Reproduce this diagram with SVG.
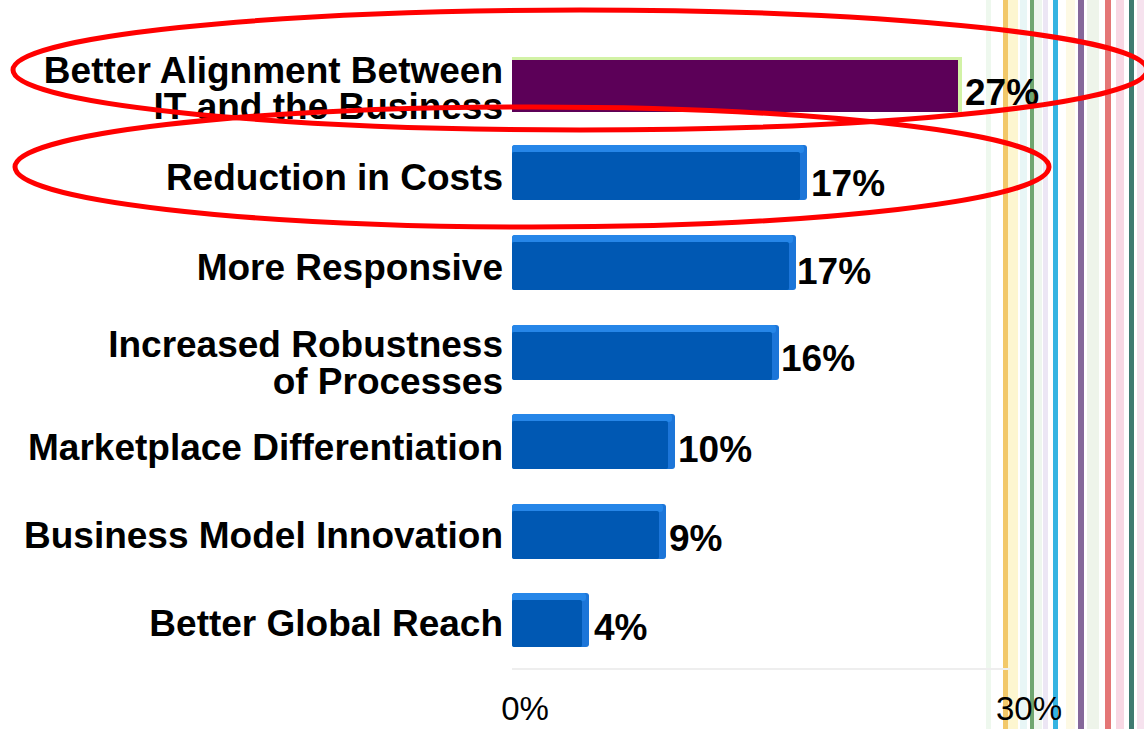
<svg xmlns="http://www.w3.org/2000/svg" width="1144" height="729" viewBox="0 0 1144 729">
<defs>
<style>
.lbl{font-family:"Liberation Sans",Arial,sans-serif;font-weight:bold;font-size:37px;fill:#000;text-anchor:end}
.val{font-family:"Liberation Sans",Arial,sans-serif;font-weight:bold;font-size:37px;fill:#000}
.ax{font-family:"Liberation Sans",Arial,sans-serif;font-size:33px;fill:#000;text-anchor:middle}
.bar{fill:#0059b3}
.top{fill:#2586e8}
.side{fill:#1a74d8}
.ring{fill:none;stroke:#ff0000;stroke-width:5}
</style>
<filter id="soft" x="-5%" y="-20%" width="110%" height="140%"><feGaussianBlur stdDeviation="0.7"/></filter>
</defs>
<rect width="1144" height="729" fill="#ffffff"/>
<g id="stripes">
<rect x="986" y="0" width="5" height="729" fill="#eef8ee"/>
<rect x="1003" y="0" width="5" height="729" fill="#f2c869"/>
<rect x="1008" y="0" width="10" height="729" fill="#fdf6d0"/>
<rect x="1020" y="0" width="7" height="729" fill="#e8f6f6"/>
<rect x="1030" y="0" width="4" height="729" fill="#6fa66f"/>
<rect x="1034" y="0" width="8" height="729" fill="#eef6ee"/>
<rect x="1043" y="0" width="5" height="729" fill="#ece6f4"/>
<rect x="1053" y="0" width="5" height="729" fill="#35b4e2"/>
<rect x="1066" y="0" width="9" height="729" fill="#fdf9e4"/>
<rect x="1078" y="0" width="6" height="729" fill="#85689a"/>
<rect x="1087" y="0" width="12" height="729" fill="#eef4ea"/>
<rect x="1105" y="0" width="6" height="729" fill="#e47676"/>
<rect x="1116" y="0" width="8" height="729" fill="#f8d8e4"/>
<rect x="1129" y="0" width="5" height="729" fill="#3f7a70"/>
<rect x="1137" y="0" width="7" height="729" fill="#f6e2ee"/>
</g>
<g id="axis">
<line x1="512" y1="669" x2="1010" y2="669" stroke="#eeeeee" stroke-width="2"/>
<text class="ax" x="525" y="720">0%</text>
<text class="ax" x="1029" y="720">30%</text>
</g>
<g id="bar1">
<text class="lbl" x="503" y="83">Better Alignment Between</text>
<text class="lbl" x="503" y="119">IT and the Business</text>
<g filter="url(#soft)">
<rect x="512" y="57" width="450" height="55" fill="#d2f2a6"/>
<rect x="512" y="60" width="446" height="52" fill="#5c0058"/>
</g>
<text class="val" x="965" y="105">27%</text>
</g>
<g id="bar2">
<text class="lbl" x="503" y="190">Reduction in Costs</text>
<g filter="url(#soft)">
<rect class="side" x="512" y="145" width="295" height="55" rx="3"/>
<rect class="top" x="512" y="145" width="292" height="8" rx="3"/>
<rect class="bar" x="512" y="152" width="288" height="48" rx="2"/>
</g>
<text class="val" x="811" y="196">17%</text>
</g>
<g id="bar3">
<text class="lbl" x="503" y="280">More Responsive</text>
<g filter="url(#soft)">
<rect class="side" x="512" y="235" width="284" height="55" rx="3"/>
<rect class="top" x="512" y="235" width="281" height="8" rx="3"/>
<rect class="bar" x="512" y="242" width="277" height="48" rx="2"/>
</g>
<text class="val" x="797" y="284">17%</text>
</g>
<g id="bar4">
<text class="lbl" x="503" y="357">Increased Robustness</text>
<text class="lbl" x="503" y="394">of Processes</text>
<g filter="url(#soft)">
<rect class="side" x="512" y="325" width="267" height="55" rx="3"/>
<rect class="top" x="512" y="325" width="264" height="8" rx="3"/>
<rect class="bar" x="512" y="332" width="260" height="48" rx="2"/>
</g>
<text class="val" x="781" y="371">16%</text>
</g>
<g id="bar5">
<text class="lbl" x="503" y="460">Marketplace Differentiation</text>
<g filter="url(#soft)">
<rect class="side" x="512" y="414" width="163" height="55" rx="3"/>
<rect class="top" x="512" y="414" width="160" height="8" rx="3"/>
<rect class="bar" x="512" y="421" width="156" height="48" rx="2"/>
</g>
<text class="val" x="678" y="462">10%</text>
</g>
<g id="bar6">
<text class="lbl" x="503" y="548">Business Model Innovation</text>
<g filter="url(#soft)">
<rect class="side" x="512" y="504" width="154" height="55" rx="3"/>
<rect class="top" x="512" y="504" width="151" height="8" rx="3"/>
<rect class="bar" x="512" y="511" width="147" height="48" rx="2"/>
</g>
<text class="val" x="669" y="551">9%</text>
</g>
<g id="bar7">
<text class="lbl" x="503" y="636">Better Global Reach</text>
<g filter="url(#soft)">
<rect class="side" x="512" y="593" width="77" height="54" rx="3"/>
<rect class="top" x="512" y="593" width="74" height="8" rx="3"/>
<rect class="bar" x="512" y="600" width="70" height="47" rx="2"/>
</g>
<text class="val" x="594" y="640">4%</text>
</g>
<g id="highlights">
<ellipse class="ring" cx="580" cy="70" rx="567" ry="60"/>
<ellipse class="ring" cx="532" cy="167" rx="517" ry="60"/>
</g>
</svg>
